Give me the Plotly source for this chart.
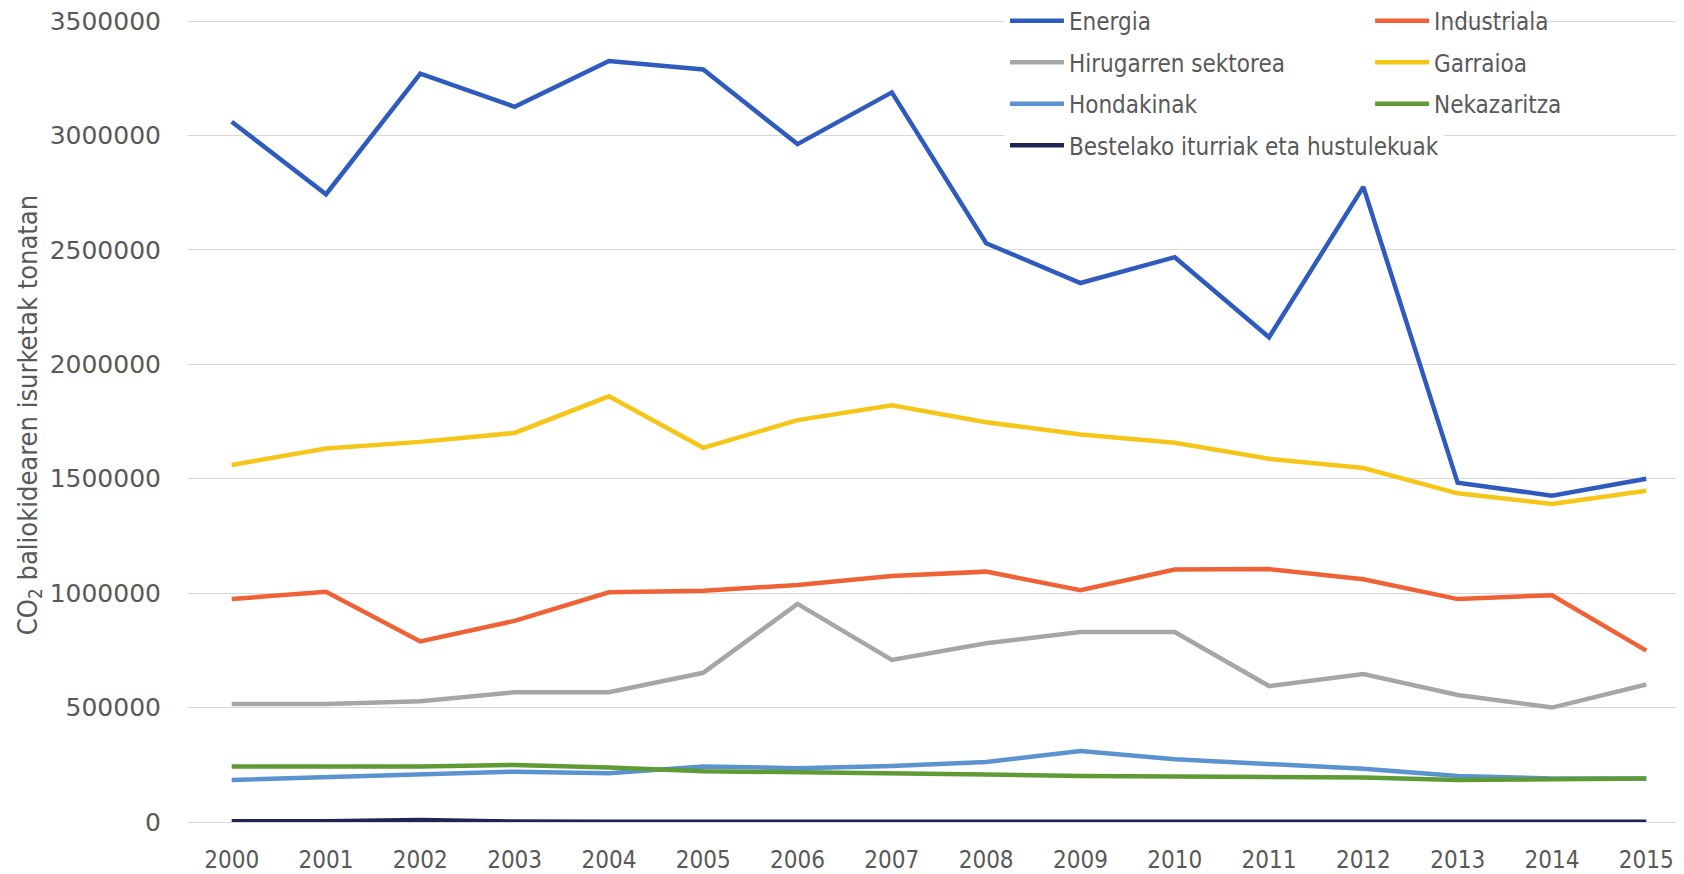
import plotly.graph_objects as go

years = [str(y) for y in range(2000, 2016)]

energia = [3060000, 2743000, 3270000, 3125000, 3325000, 3288000, 2962000, 3188000,
           2529000, 2355000, 2468000, 2118000, 2775000, 1482000, 1426000, 1500000]
industriala = [974000, 1006000, 789000, 879000, 1004000, 1010000, 1036000, 1075000,
               1094000, 1013000, 1103000, 1105000, 1061000, 974000, 991000, 749000]
hirugarren = [516000, 516000, 528000, 567000, 567000, 652000, 953000, 708000,
              781000, 830000, 830000, 594000, 647000, 555000, 500000, 601000]
garraioa = [1560000, 1632000, 1661000, 1700000, 1860000, 1635000, 1756000, 1821000,
            1747000, 1693000, 1657000, 1587000, 1547000, 1436000, 1390000, 1447000]
hondakinak = [184000, 197000, 206000, 220000, 213000, 243000, 235000, 245000,
              262000, 310000, 274000, 252000, 233000, 201000, 190000, 190000]
nekazaritza = [243000, 243000, 243000, 249000, 238000, 222000, 218000, 213000,
               208000, 201000, 198000, 198000, 194000, 184000, 189000, 190000]
bestelako = [3000, 3000, 9000, 2000, 1000, 1000, 1000, 1000,
             1000, 1000, 1000, 1000, 1000, 1000, 1000, 1000]

# name, values, colour, which legend column
series = [
    ("Energia", energia, "#2F5BBF", "legend"),
    ("Industriala", industriala, "#EE6236", "legend2"),
    ("Hirugarren sektorea", hirugarren, "#A6A6A6", "legend"),
    ("Garraioa", garraioa, "#F5C518", "legend2"),
    ("Hondakinak", hondakinak, "#5B93D0", "legend"),
    ("Nekazaritza", nekazaritza, "#5E9B35", "legend2"),
    ("Bestelako iturriak eta hustulekuak", bestelako, "#1F2454", "legend"),
]

NARROW = "Liberation Sans Narrow, DejaVu Sans Condensed, Arial Narrow, sans-serif"
GREY = "#595959"

fig = go.Figure()
for name, vals, color, leg in series:
    fig.add_trace(go.Scatter(
        x=years,
        y=vals,
        mode="lines",
        name=name,
        legend=leg,
        legendgroup=name,
        line=dict(color=color, width=4.5),
    ))

# the page body adds an 8px margin, so the figure is sized to fit what is left
legend_style = dict(
    orientation="v",
    yanchor="top",
    y=1.0115,
    xanchor="left",
    font=dict(family=NARROW, size=24, color=GREY),
    tracegroupgap=7.3,
    itemwidth=54,
    borderwidth=0,
)

fig.update_layout(
    width=1676,
    height=866,
    margin=dict(l=179, r=0, t=0, b=52, autoexpand=False),
    paper_bgcolor="white",
    plot_bgcolor="white",
    showlegend=True,
    legend=dict(legend_style, x=0.5464, bgcolor="white", entrywidth=640),
    legend2=dict(legend_style, x=0.7903, bgcolor="rgba(0,0,0,0)"),
    xaxis=dict(
        type="category",
        range=[-0.474, 15.40],
        showgrid=False,
        showline=False,
        zeroline=False,
        ticks="",
        ticklabelstandoff=21,
        tickfont=dict(family=NARROW, size=24, color=GREY),
    ),
    yaxis=dict(
        range=[0, 3556800],
        tick0=0,
        dtick=500000,
        tickformat="d",
        ticklabeloverflow="allow",
        showgrid=True,
        gridcolor="#D9D9D9",
        gridwidth=1,
        zeroline=True,
        zerolinecolor="#D9D9D9",
        zerolinewidth=1,
        showline=False,
        ticks="",
        ticklabelstandoff=25,
        tickfont=dict(family="DejaVu Sans, Verdana, sans-serif", size=25, color=GREY),
        title=dict(
            text="CO<sub>2</sub> baliokidearen isurketak tonatan",
            font=dict(family=NARROW, size=27, color=GREY),
            standoff=4,
        ),
    ),
)

fig.write_html("out.html")
